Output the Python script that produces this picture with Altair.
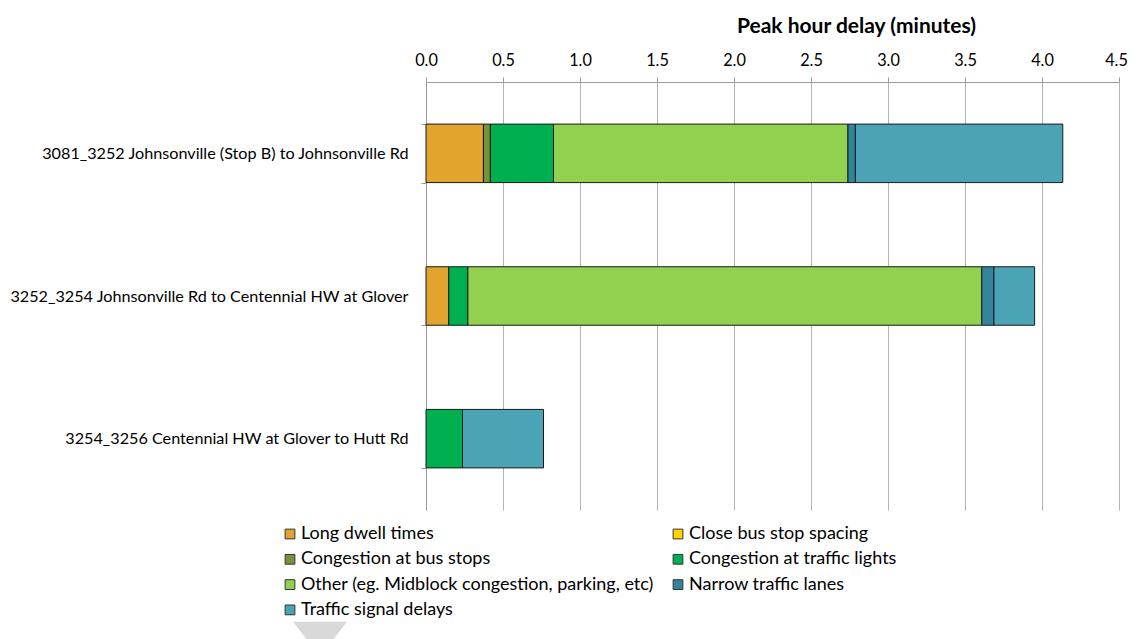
import altair as alt
import pandas as pd

categories = [
    "3081_3252 Johnsonville (Stop B) to Johnsonville Rd",
    "3252_3254 Johnsonville Rd to Centennial HW at Glover",
    "3254_3256 Centennial HW at Glover to Hutt Rd",
]
series = [
    "Long dwell times",
    "Close bus stop spacing",
    "Congestion at bus stops",
    "Congestion at traffic lights",
    "Other (eg. Midblock congestion, parking, etc)",
    "Narrow traffic lanes",
    "Traffic signal delays",
]
colors = ["#E1A42C", "#FFD200", "#76923C", "#00B050", "#92D050", "#31849B", "#4BA4B5"]

long_dwell = [0.373, 0.148, 0.0]
close_spacing = [0.0, 0.0, 0.0]
bus_stops = [0.045, 0.0, 0.0]
traffic_lights = [0.410, 0.124, 0.237]
other = [1.912, 3.337, 0.0]
narrow = [0.048, 0.079, 0.0]
signal_delays = [1.347, 0.264, 0.526]

x_ticks = [0.0, 0.5, 1.0, 1.5, 2.0, 2.5, 3.0, 3.5, 4.0, 4.5]

all_vals = [long_dwell, close_spacing, bus_stops, traffic_lights, other, narrow, signal_delays]
rows = []
for si, (s, vals) in enumerate(zip(series, all_vals)):
    for ci, c in enumerate(categories):
        if vals[ci] > 0:
            rows.append({"segment": c, "cause": s, "order": si, "delay": vals[ci]})
df = pd.DataFrame(rows)

FONT = "Lato"

bars = alt.Chart(df).mark_bar(stroke="#1a1a1a", strokeWidth=1).encode(
    x=alt.X(
        "sum(delay):Q",
        scale=alt.Scale(domain=[0, 4.5], nice=False, zero=True),
        axis=alt.Axis(
            orient="top",
            values=x_ticks,
            format=".1f",
            title="Peak hour delay (minutes)",
            titleFont=FONT,
            titleFontSize=21,
            titleFontWeight="bold",
            titleColor="#000000",
            titleX=430,
            titleY=-50,
            titleAlign="center",
            titleBaseline="alphabetic",
            labelFont=FONT,
            labelFontSize=16.3,
            labelColor="#000000",
            labelBaseline="alphabetic",
            labelFlush=False,
            labelOffset=alt.ExprRef(expr="datum.value >= 4.5 ? -3 : 0"),
            labelPadding=12,
            tickSize=5,
            tickColor="#9a9a9a",
            domainColor="#9a9a9a",
            grid=True,
            gridColor="#b4b4b4",
            gridWidth=1,
        ),
    ),
    y=alt.Y(
        "segment:N",
        sort=categories,
        scale=alt.Scale(paddingInner=0.59, paddingOuter=0.295),
        axis=alt.Axis(
            title=None,
            labelFont=FONT,
            labelFontSize=16.2,
            labelColor="#000000",
            labelPadding=13,
            labelLimit=500,
            tickBand="extent",
            tickSize=5,
            tickColor="#9a9a9a",
            domainColor="#9a9a9a",
            grid=False,
        ),
    ),
    color=alt.Color(
        "cause:N",
        scale=alt.Scale(domain=series, range=colors),
        legend=alt.Legend(
            title=None,
            orient="none",
            legendX=-145,
            legendY=443,
            direction="horizontal",
            columns=2,
            columnPadding=15,
            rowPadding=7.3,
            symbolType="square",
            symbolSize=95,
            symbolStrokeColor="#333333",
            symbolStrokeWidth=1,
            labelFont=FONT,
            labelFontSize=18,
            labelColor="#000000",
            labelLimit=500,
            labelOffset=2,
        ),
    ),
    order=alt.Order("order:Q"),
)

marker = alt.Chart(pd.DataFrame({"k": [0]})).mark_point(
    shape="M-1,-0.637L1,-0.637L0,0.637Z",
    filled=True,
    color="#d9d9d9",
    opacity=1,
    size=2916,
).encode(x=alt.value(-106), y=alt.value(557))

chart = alt.layer(bars, marker).properties(
    width=693,
    height=428,
    autosize=alt.AutoSizeParams(type="none"),
    padding={"left": 418, "top": 74, "right": 10, "bottom": 129},
).configure_view(stroke=None)

chart.save("out.html", embed_options={"renderer": "svg", "actions": False})
